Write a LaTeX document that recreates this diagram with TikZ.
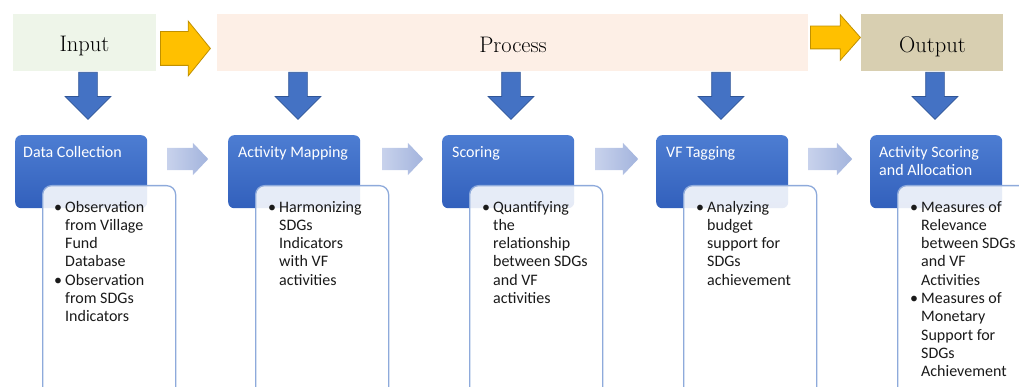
\documentclass[tikz,border=0pt]{standalone}
\usepackage{fontspec}
\newfontfamily\calibrifont{Carlito}
\usetikzlibrary{shapes.arrows,calc}
\definecolor{inputc}{HTML}{EEF5E9}
\definecolor{processc}{HTML}{FDEFE6}
\definecolor{outputc}{HTML}{D8CFB1}
\definecolor{ygold}{HTML}{FFC000}
\definecolor{ydark}{HTML}{C09000}
\definecolor{dblue}{HTML}{4472C4}
\definecolor{dblueborder}{HTML}{2F5597}
\definecolor{boxtop}{HTML}{4D7DD2}
\definecolor{boxbot}{HTML}{3260BC}
\definecolor{itemborder}{HTML}{8EAADB}
\definecolor{lightl}{HTML}{C8D2EC}
\definecolor{lightr}{HTML}{A3B4DD}
\definecolor{txt}{HTML}{1A1A1A}
\begin{document}
\begin{tikzpicture}[x=1pt,y=-1pt,
  topbox/.style={minimum height=57pt, inner sep=0pt, anchor=north west, draw=none},
  toptext/.style={anchor=base, inner sep=0pt, font=\fontsize{22.5}{26}\selectfont, text=black},
  yarrow/.style={single arrow, fill=ygold, draw=ydark, line width=0.8pt, inner xsep=0pt, anchor=tail},
  darrow/.style={single arrow, shape border rotate=270, fill=dblue, draw=dblueborder, line width=0.7pt,
    inner xsep=9pt, inner ysep=0pt, minimum height=47pt, single arrow head extend=13.5pt, anchor=tail},
  larrow/.style={single arrow, left color=lightl, right color=lightr, draw=none, inner xsep=0pt,
    inner ysep=11pt, single arrow head extend=5pt, single arrow tip angle=93, anchor=tail},
  stepbox/.style={rounded corners=6pt, minimum width=132pt, minimum height=73pt, anchor=north west,
    top color=boxtop, bottom color=boxbot, draw=none, inner sep=0pt},
  itembox/.style={rounded corners=9pt, minimum width=133pt, minimum height=230pt, anchor=north west,
    fill=white, fill opacity=0.88, draw=itemborder, line width=1.3pt, inner sep=0pt},
  ttl/.style={anchor=north west, inner sep=0pt, text=white, font=\calibrifont\fontsize{16}{18.3}\selectfont},
  itm/.style={anchor=north west, inner sep=0pt, text=txt, font=\calibrifont\fontsize{16}{18.3}\selectfont},
]
\useasboundingbox (0,0) rectangle (1019,387);
\clip (0,0) rectangle (1019,387);

% top row
\node[topbox, fill=inputc, minimum width=143pt] (input) at (13,14) {};
\node[topbox, fill=processc, minimum width=591pt] (process) at (217,14) {};
\node[topbox, fill=outputc, minimum width=142pt] (output) at (861,14) {};
\node[toptext] (tinput) at (84.5,52) {Input};
\node[toptext] (tprocess) at (513,52.5) {Process};
\node[toptext] (toutput) at (932.5,52.5) {Output};

\node[yarrow, minimum height=50pt, inner ysep=16.5pt, single arrow head extend=10.5pt, single arrow tip angle=102] (ya1) at (160,48.5) {};
\node[yarrow, minimum height=50pt, inner ysep=11pt, single arrow head extend=11.5pt, single arrow tip angle=97] (ya2) at (810,37.5) {};

% down arrows
\node[darrow] (d1) at (88,72) {};
\node[darrow] (d2) at (298,72) {};
\node[darrow] (d3) at (511,72) {};
\node[darrow] (d4) at (721,72) {};
\node[darrow] (d5) at (935,72) {};

% step boxes
\node[stepbox] (s1) at (15,135) {};
\node[stepbox] (s2) at (228,135) {};
\node[stepbox] (s3) at (442,135) {};
\node[stepbox] (s4) at (656,135) {};
\node[stepbox] (s5) at (870,135) {};

\node[ttl] (t1) at ($(s1.north west)+(8,9)$) {\begin{tabular}{@{}l@{}}Data Collection\end{tabular}};
\node[ttl] (t2) at ($(s2.north west)+(10,9)$) {\begin{tabular}{@{}l@{}}Activity Mapping\end{tabular}};
\node[ttl] (t3) at ($(s3.north west)+(10,9)$) {\begin{tabular}{@{}l@{}}Scoring\end{tabular}};
\node[ttl] (t4) at ($(s4.north west)+(10,9)$) {\begin{tabular}{@{}l@{}}VF Tagging\end{tabular}};
\node[ttl] (t5) at ($(s5.north west)+(9,9)$) {\begin{tabular}{@{}l@{}}Activity Scoring\\and Allocation\end{tabular}};

% item boxes
\node[itembox] (b1) at (42,185) {};
\node[itembox] (b2) at (255,185) {};
\node[itembox] (b3) at (469,185) {};
\node[itembox] (b4) at (683,185) {};
\node[itembox] (b5) at (897,185) {};

\node[itm] (i1) at ($(b1.north west)+(12,14)$) {\begin{tabular}{@{}l@{}l@{}}\makebox[11pt][l]{\textbullet}&Observation\\&from Village\\&Fund\\&Database\\\makebox[11pt][l]{\textbullet}&Observation\\&from SDGs\\&Indicators\end{tabular}};
\node[itm] (i2) at ($(b2.north west)+(13,14)$) {\begin{tabular}{@{}l@{}l@{}}\makebox[11pt][l]{\textbullet}&Harmonizing\\&SDGs\\&Indicators\\&with VF\\&activities\end{tabular}};
\node[itm] (i3) at ($(b3.north west)+(13,14)$) {\begin{tabular}{@{}l@{}l@{}}\makebox[11pt][l]{\textbullet}&Quantifying\\&the\\&relationship\\&between SDGs\\&and VF\\&activities\end{tabular}};
\node[itm] (i4) at ($(b4.north west)+(13,14)$) {\begin{tabular}{@{}l@{}l@{}}\makebox[11pt][l]{\textbullet}&Analyzing\\&budget\\&support for\\&SDGs\\&achievement\end{tabular}};
\node[itm] (i5) at ($(b5.north west)+(13,14)$) {\begin{tabular}{@{}l@{}l@{}}\makebox[11pt][l]{\textbullet}&Measures of\\&Relevance\\&between SDGs\\&and VF\\&Activities\\\makebox[11pt][l]{\textbullet}&Measures of\\&Monetary\\&Support for\\&SDGs\\&Achievement\end{tabular}};

% light arrows between steps
\node[larrow, minimum height=41pt] (l1) at (167,159) {};
\node[larrow, minimum height=41pt] (l2) at (382,159) {};
\node[larrow, minimum height=43pt] (l3) at (595,159) {};
\node[larrow, minimum height=44pt] (l4) at (808,159) {};
\end{tikzpicture}
\end{document}
